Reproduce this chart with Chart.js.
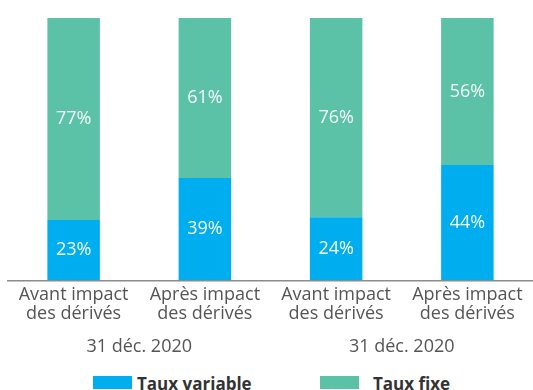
<!DOCTYPE html>
<html>
<head>
<meta charset="utf-8">
<script src="https://cdn.jsdelivr.net/npm/chart.js@4/dist/chart.umd.min.js"></script>
<style>
  html, body { margin: 0; padding: 0; background: #fff; overflow: hidden; }
  #wrap { position: relative; width: 533px; height: 390px; }
  #graf { position: absolute; left: 0; top: 0; }
  .leg { position: absolute; top: 376px; height: 14px; }
  .leg span { position: absolute; top: 0; width: 39px; height: 13px; }
  .leg b { position: absolute; top: -4px; font: bold 17px "Open Sans", sans-serif; color: #333; white-space: nowrap; }
</style>
</head>
<body>
<div id="wrap">
  <canvas id="graf" width="533" height="365"></canvas>
  <div class="leg" style="left:93px"><span style="background:#00AEEF"></span><b style="left:44px">Taux variable</b></div>
  <div class="leg" style="left:320px"><span style="background:#5BC2A7"></span><b style="left:53px">Taux fixe</b></div>
</div>
<script>
  // categorias e valores (%)
  let categorias = [["Avant impact", "des dérivés"], ["Après impact", "des dérivés"], ["Avant impact", "des dérivés"], ["Après impact", "des dérivés"]];
  let periodos = ["31 déc. 2020", "31 déc. 2020"];
  let tauxVariable = [23, 39, 24, 44];
  let tauxFixe = [77, 61, 76, 56];

  // escreve o valor no meio de cada segmento
  const rotulos = {
    id: "rotulos",
    afterDatasetsDraw(chart) {
      let ctx = chart.ctx;
      ctx.save();
      ctx.fillStyle = "#f4fbf9";
      ctx.font = "18px 'Open Sans', sans-serif";
      ctx.textAlign = "center";
      ctx.textBaseline = "middle";
      chart.data.datasets.forEach((ds, i) => {
        chart.getDatasetMeta(i).data.forEach((bar, j) => {
          let meio = (bar.y + bar.base) / 2;
          ctx.fillText(ds.data[j] + "%", bar.x, meio);
        });
      });
      ctx.restore();
    }
  };

  var ctx1 = document.getElementById("graf").getContext("2d");
  var grafico = new Chart(ctx1, {
    type: "bar",
    data: {
      labels: categorias,
      datasets: [
        { label: "Taux variable", data: tauxVariable, backgroundColor: "#00AEEF", barPercentage: 0.4, categoryPercentage: 1 },
        { label: "Taux fixe", data: tauxFixe, backgroundColor: "#5BC2A7", barPercentage: 0.4, categoryPercentage: 1 }
      ]
    },
    options: {
      responsive: false,
      animation: false,
      layout: { padding: { left: 8, right: 0, top: 18, bottom: 0 } },
      plugins: { legend: { display: false }, tooltip: { enabled: false } },
      scales: {
        x: {
          stacked: true,
          grid: { display: false, drawTicks: false },
          border: { color: "#8c8c8c", width: 1.5 },
          ticks: { color: "#555", font: { family: "Open Sans", size: 18, lineHeight: 1.05 }, padding: 5, maxRotation: 0 }
        },
        x2: {
          type: "category",
          labels: periodos,
          position: "bottom",
          grid: { display: false, drawTicks: false },
          border: { display: false },
          ticks: { color: "#555", font: { family: "Open Sans", size: 18, lineHeight: 1.05 }, padding: 9 }
        },
        y: {
          stacked: true,
          display: false,
          min: 0,
          max: 100
        }
      }
    },
    plugins: [rotulos]
  });
</script>
</body>
</html>
